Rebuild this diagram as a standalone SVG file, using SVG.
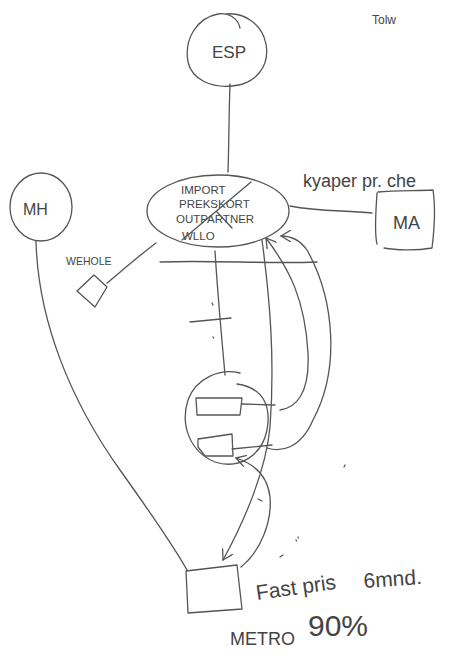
<svg xmlns="http://www.w3.org/2000/svg" width="449" height="659" viewBox="0 0 449 659">
<defs>
<style>
.s{fill:none;stroke:#555;stroke-width:1.3;stroke-linecap:round;stroke-linejoin:round}
.t{font-family:"Liberation Sans",Arial,sans-serif;fill:#444}
</style>
<marker id="ah" viewBox="0 0 12 12" refX="10" refY="6" markerWidth="12" markerHeight="12" markerUnits="userSpaceOnUse" orient="auto">
<path d="M0,0 L10,6 L0,12" fill="none" stroke="#555" stroke-width="1.3"/>
</marker>
</defs>
<rect width="449" height="659" fill="#fff"/>
<text class="t" x="372" y="24" font-size="12">Tolw</text>
<g id="connectors">
<path class="s" d="M230,84 C229,110 229,140 228,172"/>
<path class="s" d="M290,206 C320,212 345,210 372,213"/>
<path class="s" d="M107,283 C125,268 140,255 156,243"/>
<path class="s" d="M36,241 C38,320 70,400 120,470 C145,505 170,540 187,570"/>
<path class="s" d="M160,262 C210,260 270,264 317,262"/>
<path class="s" d="M215,251 C218,300 222,340 225,375"/>
<path class="s" d="M190,322 L231,318"/>
<path class="s" d="M242,404 L275,405"/>
<path class="s" d="M232,449 L272,445"/>
<path class="s" d="M262,240 C270,300 275,360 270,427 C266,470 245,520 223,560" marker-end="url(#ah)"/>
<path class="s" d="M280,410 C295,408 310,395 308,353 C305,300 290,270 266,238" marker-end="url(#ah)"/>
<path class="s" d="M267,448 C280,452 300,450 313,420 C340,370 335,300 307,250 C300,240 292,236 281,236" marker-end="url(#ah)"/>
<path class="s" d="M241,567 C262,550 272,520 270,497 C268,480 258,465 236,458" marker-end="url(#ah)"/>
<path class="s" d="M212,303 l1,2 M213,337 l0.5,1 M258,499 l4,2 M298,537 l0.5,1 M280,557 l3,-2 M296,540 l0.5,1 M345,465 l-1,2"/>
</g>
<g id="esp">
<path class="s" d="M240,28 C238,18 228,12 218,14 C196,18 184,40 188,62 C192,80 212,88 232,86 C256,84 270,66 266,44 C262,24 244,12 226,14"/>
<text class="t" x="212" y="58" font-size="17">ESP</text>
</g>
<g id="import">
<ellipse class="s" cx="218" cy="211" rx="71" ry="36"/>
<text class="t" font-size="11.5"><tspan x="181" y="194">IMPORT</tspan><tspan x="179" y="208">PREKSKORT</tspan><tspan x="176" y="223">OUTPARTNER</tspan><tspan x="182" y="240">WLLO</tspan></text>
<path class="s" d="M182,240 L251,182 M217,212 L232,228"/>
</g>
<g id="ma">
<text class="t" x="303" y="187" font-size="18">kyaper  pr. che</text>
<path class="s" d="M377,193 C376,210 374,232 377,244 M378,192 C395,190 418,191 433,190 C436,210 434,232 432,248 C415,251 395,250 384,248"/>
<text class="t" x="393" y="229" font-size="18">MA</text>
</g>
<g id="mh">
<ellipse class="s" cx="41" cy="207" rx="31" ry="34"/>
<text class="t" x="23" y="215" font-size="16">MH</text>
</g>
<g id="wehole">
<text class="t" x="66" y="265" font-size="10.5">WEHOLE</text>
<path class="s" d="M77,291 L94,275 L107,287 L95,307 Z"/>
</g>
<g id="circle">
<path class="s" d="M240,373 C220,368 196,378 188,400 C180,425 190,452 215,462 C240,470 262,455 267,430 C271,408 265,388 237,384"/>
<path class="s" d="M196,398 L242,398 L240,415 L197,415 Z"/>
<path class="s" d="M198,439 L232,434 L233,456 L205,456 L198,447 Z"/>
</g>
<g id="box">
<path class="s" d="M186,571 L237,565 L242,609 L188,613 Z"/>
<text class="t" transform="translate(257,600) rotate(-8)" font-size="21">Fast pris</text>
<text class="t" transform="translate(364,588) rotate(-4)" font-size="21">6mnd.</text>
<text class="t" x="230" y="645" font-size="18">METRO</text>
<text class="t" x="308" y="636" font-size="30">90%</text>
</g>
</svg>
